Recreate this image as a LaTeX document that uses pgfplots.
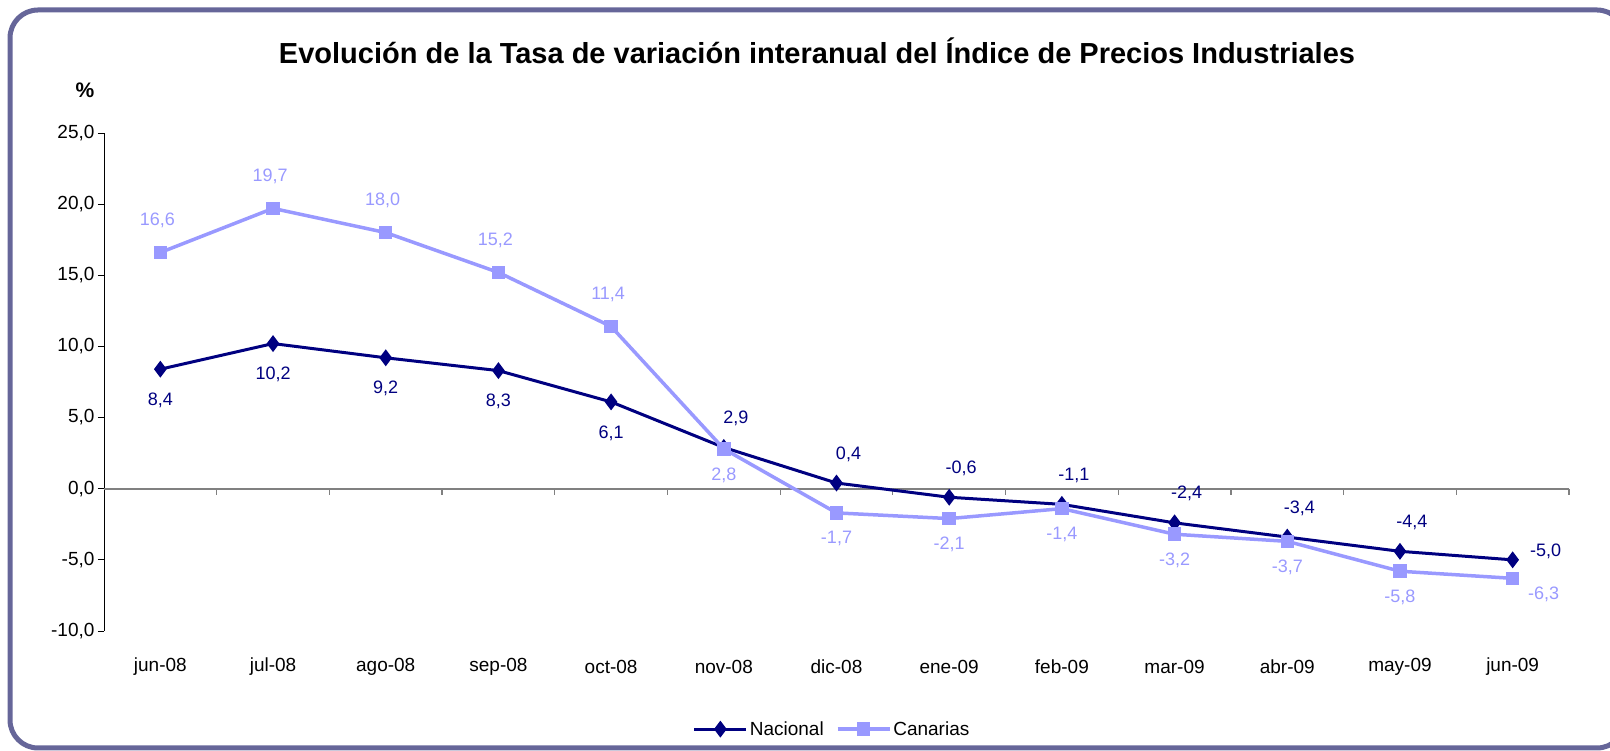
\documentclass[border=0pt]{standalone}
\usepackage{fontspec}
\setmainfont{Liberation Sans}
\usepackage{pgfplots}
\pgfplotsset{compat=1.18}
\usepackage{pgfplotstable}
\definecolor{nac}{HTML}{000080}
\definecolor{can}{HTML}{9999FF}
\definecolor{framec}{HTML}{666699}
\pgfplotstableread{
x nac can
0 8.4 16.6
1 10.2 19.7
2 9.2 18.0
3 8.3 15.2
4 6.1 11.4
5 2.9 2.8
6 0.4 -1.7
7 -0.6 -2.1
8 -1.1 -1.4
9 -2.4 -3.2
10 -3.4 -3.7
11 -4.4 -5.8
12 -5.0 -6.3
}\datatab
\pgfplotsset{
  lbl/.style n args={3}{forget plot, draw=none, mark=none,
    restrict x to domain=#1,
    point meta=y,
    nodes near coords={\pgfmathprintnumber[fixed,fixed zerofill,precision=1,use comma]{\pgfplotspointmeta}},
    every node near coord/.append style={font=\fontsize{18}{21}\selectfont, anchor=center, text=#2, #3}},
}
\begin{document}
\begin{tikzpicture}[x=1pt,y=1pt]
\useasboundingbox (0,0) rectangle (1610,751);
\begin{scope}
\clip (0,0) rectangle (1610,751);
\draw[framec, line width=5pt, rounded corners=28pt] (10,3) rectangle (1625,741);
\end{scope}
\node[font=\bfseries\fontsize{29}{34}\selectfont] at (817,700) {Evolución de la Tasa de variación interanual del Índice de Precios Industriales};
\node[font=\bfseries\fontsize{21}{25}\selectfont] at (85,661) {\%};
\begin{axis}[
  at={(104pt,120pt)}, anchor=south west, scale only axis,
  width=1465pt, height=498pt,
  xmin=-0.5, xmax=12.5, ymin=-10, ymax=25,
  axis lines=left,
  x axis line style={draw=none},
  y axis line style={-, black, line width=0.8pt},
  xtick={0,...,12},
  xticklabels={jun-08,jul-08,ago-08,sep-08,oct-08,nov-08,dic-08,ene-09,feb-09,mar-09,abr-09,may-09,jun-09},
  x tick style={draw=none},
  ytick={-10,-5,...,25},
  y tick style={black, line width=0.8pt},
  tick align=outside, major tick length=6pt,
  y tick label style={/pgf/number format/.cd,fixed,fixed zerofill,precision=1,use comma},
  /pgf/number format/assume math mode=true,
  ticklabel style={font=\fontsize{19}{22}\selectfont},
  xticklabel style={anchor=center, yshift=-30pt},
  clip=false,
  legend style={at={(0.497,-0.197)}, anchor=center, draw=none, fill=none,
    font=\fontsize{19}{22}\selectfont, legend columns=2,
    /tikz/every even column/.append style={column sep=10pt}},
  legend image code/.code={\draw[mark repeat=2,mark phase=2,#1] plot coordinates {(0pt,0pt) (26pt,0pt) (52pt,0pt)};},
]
\draw[gray, line width=2pt] (axis cs:-0.5,0) -- (axis cs:12.5,0);
\pgfplotsinvokeforeach{0.5,1.5,...,12.5}{\draw[gray, line width=1.2pt] (axis cs:#1,0) -- ++(0pt,-6pt);}
\addplot[nac, line width=3pt, mark=diamond*, mark size=6pt] table[x=x,y=nac]{\datatab};
\addlegendentry{Nacional}
\addplot[can, line width=3.5pt, mark=square*, mark size=5pt] table[x=x,y=can]{\datatab};
\addlegendentry{Canarias}
\addplot[lbl={0:4}{nac}{yshift=-31pt}] table[x=x,y=nac]{\datatab};
\addplot[lbl={5:11}{nac}{yshift=29pt, xshift=12pt}] table[x=x,y=nac]{\datatab};
\addplot[lbl={12:12}{nac}{yshift=8pt, xshift=33pt}] table[x=x,y=nac]{\datatab};
\addplot[lbl={0:4}{can}{yshift=32pt, xshift=-3pt}] table[x=x,y=can]{\datatab};
\addplot[lbl={5:11}{can}{yshift=-26pt}] table[x=x,y=can]{\datatab};
\addplot[lbl={12:12}{can}{yshift=-16pt, xshift=31pt}] table[x=x,y=can]{\datatab};
\end{axis}
\end{tikzpicture}
\end{document}
